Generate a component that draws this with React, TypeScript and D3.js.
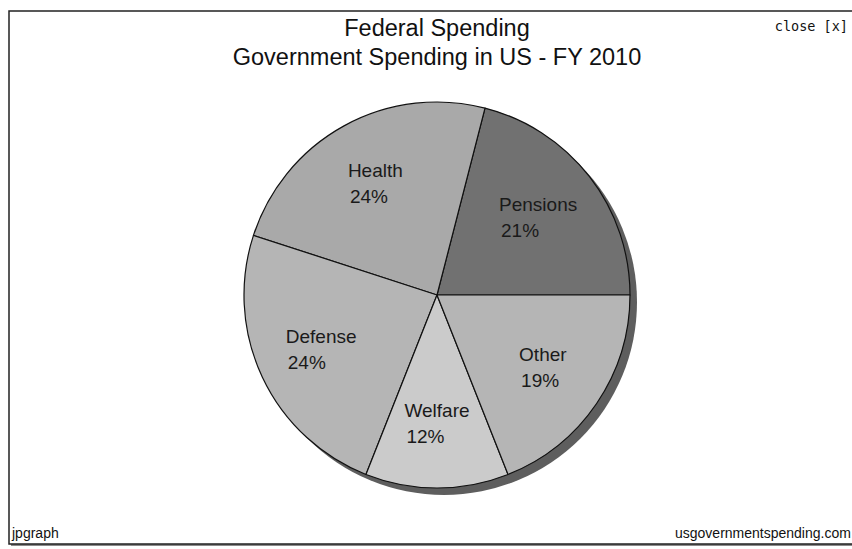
import React, { useEffect, useRef } from "react";
import * as d3 from "d3";

const categories = ["Pensions", "Health", "Defense", "Welfare", "Other"];
const values = [21, 24, 24, 12, 19];
const percentLabels = ["21%", "24%", "24%", "12%", "19%"];
const sliceColors = ["#717171", "#a9a9a9", "#b5b5b5", "#cbcbcb", "#b5b5b5"];
const titleLines = ["Federal Spending", "Government Spending in US - FY 2010"];

const W = 852;
const H = 549;

export default function App() {
  const ref = useRef<SVGSVGElement>(null);

  useEffect(() => {
    const svg = d3.select(ref.current);
    svg.selectAll("*").remove();

    // frame with shadow
    svg.append("rect").attr("x", 11).attr("y", 13).attr("width", 860).attr("height", 533).attr("fill", "#8a8a8a");
    svg.append("rect").attr("x", 9).attr("y", 11).attr("width", 860).attr("height", 533)
      .attr("fill", "#ffffff").attr("stroke", "#222").attr("stroke-width", 1.5);

    const font = "'Liberation Sans', Arial, sans-serif";

    svg.selectAll("text.title").data(titleLines).enter().append("text")
      .attr("class", "title")
      .attr("x", 437).attr("y", (_d, i) => 36 + i * 29)
      .attr("text-anchor", "middle").attr("font-family", font).attr("font-size", 23.5)
      .attr("fill", "#111").text(d => d);

    svg.append("text").attr("x", 848).attr("y", 31).attr("text-anchor", "end")
      .attr("font-family", "'DejaVu Sans Mono', monospace").attr("font-size", 13.5)
      .attr("fill", "#111").text("close [x]");

    svg.append("text").attr("x", 12).attr("y", 538).attr("font-family", font).attr("font-size", 14)
      .attr("fill", "#111").text("jpgraph");
    svg.append("text").attr("x", 675).attr("y", 538).attr("font-family", font).attr("font-size", 14)
      .attr("fill", "#111").text("usgovernmentspending.com");

    const cx = 437, cy = 295, R = 193;
    const pie = d3.pie<number>().sort(null).startAngle(Math.PI / 2).endAngle(Math.PI / 2 - 2 * Math.PI);
    const arcs = pie(values);
    const arc = d3.arc<d3.PieArcDatum<number>>().innerRadius(0).outerRadius(R);

    const g = svg.append("g").attr("transform", `translate(${cx},${cy})`);
    g.append("circle").attr("cx", 7).attr("cy", 7).attr("r", R).attr("fill", "#5e5e5e");

    g.selectAll("path.slice").data(arcs).enter().append("path")
      .attr("class", "slice")
      .attr("d", d => arc(d) as string)
      .attr("fill", (_d, i) => sliceColors[i])
      .attr("stroke", "#111").attr("stroke-width", 1.2).attr("stroke-linejoin", "round");

    const labelR = 128;
    arcs.forEach((a, i) => {
      const mid = (a.startAngle + a.endAngle) / 2;
      const lx = Math.sin(mid) * labelR;
      const ly = -Math.cos(mid) * labelR;
      const t = g.append("text").attr("font-family", font).attr("font-size", 19).attr("fill", "#1a1a1a");
      const t1 = t.append("tspan").attr("y", ly - 13 + 7).text(categories[i]);
      const t2 = t.append("tspan").attr("y", ly + 13 + 7).text(percentLabels[i]);
      const w1 = (t1.node() as SVGTextContentElement).getComputedTextLength();
      const w2 = (t2.node() as SVGTextContentElement).getComputedTextLength();
      const left = lx - Math.max(w1, w2) / 2;
      t1.attr("x", left);
      t2.attr("x", left + 2);
    });
  }, []);

  return (
    <svg ref={ref} width={W} height={H} style={{ position: "absolute", left: 0, top: 0, background: "#fff" }} />
  );
}
